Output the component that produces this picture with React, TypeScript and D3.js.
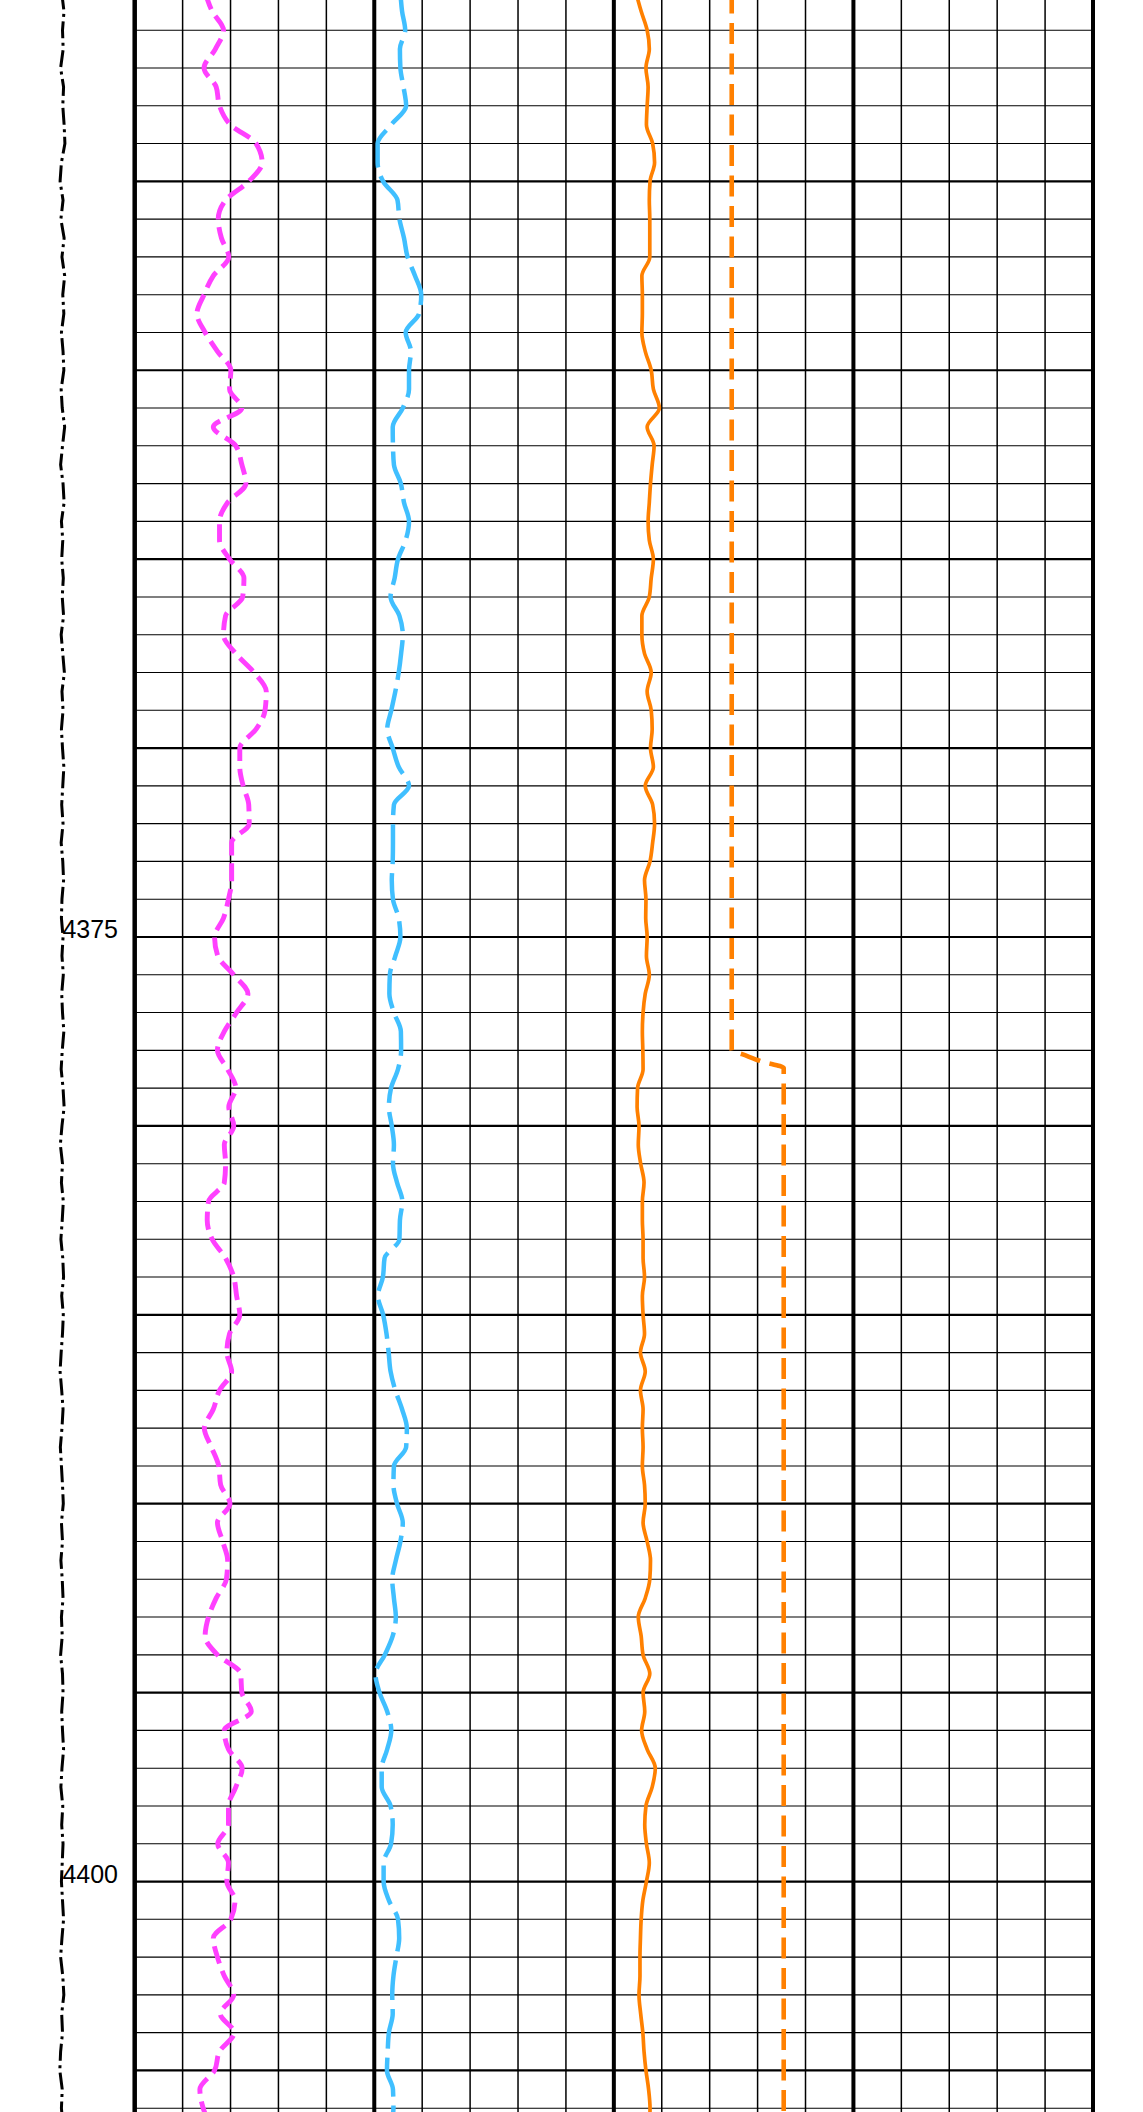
import React from 'react';
import * as d3 from 'd3';

const W = 1143;
const H = 2112;
const DEPTH_TOP = 4350.2;
const DEPTH_BOTTOM = 4406.1;
const DEPTH_START = 4350;
const DEPTH_STEP = 0.5;
const DEPTH_LABELS = [4350, 4375, 4400];

// Track 1: gamma ray (magenta dashed), 0-150
const GR = [
  44.1, 48.5, 55.6, 50.5, 43.4, 51.0, 53.1, 59.9, 76.0, 79.8,
  71.4, 56.9, 52.3, 54.3, 58.9, 49.2, 43.4, 39.0, 44.1, 51.8,
  60.2, 59.4, 67.1, 49.2, 63.3, 67.1, 69.6, 58.2, 53.1, 53.1,
  59.4, 68.4, 67.6, 56.9, 55.6, 63.3, 74.7, 82.4, 81.6, 76.0,
  65.8, 65.8, 67.9, 71.4, 71.7, 60.7, 60.7, 60.7, 58.7, 55.6,
  50.0, 52.0, 62.0, 70.9, 63.8, 56.1, 51.8, 58.2, 63.3, 58.9,
  62.0, 56.1, 56.9, 56.1, 46.2, 45.4, 48.5, 56.9, 62.0, 63.8,
  65.8, 59.4, 57.7, 60.7, 53.1, 49.2, 43.6, 48.0, 52.6, 53.8,
  59.7, 51.8, 55.1, 58.2, 57.4, 51.0, 46.2, 44.1, 51.8, 66.3,
  67.1, 73.0, 56.1, 58.7, 67.3, 63.3, 58.7, 58.7, 52.0, 58.7,
  57.7, 62.8, 60.2, 49.2, 51.8, 56.1, 62.0, 53.6, 62.2, 53.1,
  50.0, 40.8, 42.9, 48.0,
];

// Track 2: blue dashed curve, 0-100
const BLUE = [
  10.9, 11.6, 12.9, 10.7, 10.9, 12.2, 13.3, 7.1, 1.4, 1.4,
  3.7, 9.7, 10.5, 12.4, 13.9, 17.0, 19.6, 18.7, 13.1, 15.3,
  14.5, 14.5, 11.9, 7.7, 7.8, 8.2, 11.1, 12.4, 14.5, 13.1,
  9.9, 8.5, 6.8, 10.5, 11.9, 11.2, 10.2, 8.8, 7.1, 5.4,
  7.7, 10.2, 14.5, 8.2, 7.8, 7.8, 7.7, 7.3, 7.8, 10.2,
  10.9, 8.8, 6.5, 6.3, 8.2, 11.1, 11.2, 9.9, 7.0, 6.1,
  7.3, 8.2, 7.8, 9.5, 11.7, 10.7, 10.5, 4.3, 3.6, 1.5,
  3.7, 5.1, 6.0, 6.8, 8.8, 11.6, 13.6, 13.3, 8.2, 8.0,
  9.5, 11.9, 10.9, 9.0, 7.5, 8.2, 9.0, 7.7, 4.4, 0.5,
  2.2, 5.4, 7.1, 5.4, 3.1, 3.1, 6.8, 7.7, 7.0, 3.9,
  3.9, 6.1, 9.9, 10.4, 9.2, 8.0, 7.5, 7.7, 6.1, 5.6,
  5.3, 7.8, 8.0, 6.8,
];

// Track 3: orange solid curve, 0-100
const ORANGE = [
  9.2, 11.4, 13.9, 14.8, 13.4, 14.3, 13.9, 13.6, 16.2, 17.0,
  15.1, 14.8, 15.0, 15.0, 15.0, 11.7, 11.9, 11.9, 11.7, 13.1,
  15.6, 16.5, 19.0, 13.9, 16.8, 16.0, 15.3, 14.8, 14.3, 14.8,
  16.5, 15.6, 14.8, 11.7, 11.7, 12.8, 15.6, 13.9, 15.6, 16.0,
  15.3, 16.5, 13.1, 16.2, 17.0, 16.2, 15.1, 12.8, 13.4, 13.3,
  13.9, 13.6, 14.8, 13.1, 12.2, 11.9, 12.1, 12.2, 9.9, 9.7,
  10.5, 10.2, 11.2, 12.6, 11.9, 11.9, 12.2, 12.2, 12.8, 11.9,
  12.2, 12.8, 11.1, 13.1, 11.1, 12.2, 11.9, 12.2, 11.9, 12.8,
  13.1, 12.2, 13.9, 15.3, 15.0, 13.1, 10.2, 11.4, 12.2, 15.0,
  12.2, 12.9, 11.6, 13.9, 17.3, 16.0, 13.4, 12.9, 13.6, 14.8,
  13.6, 12.1, 11.4, 11.1, 10.9, 10.9, 10.5, 11.2, 12.1, 12.6,
  13.4, 14.5, 15.1, 14.8,
];

// Track 3: orange dashed step curve
const STEP_DEPTHS = [4350, 4378.0, 4378.1, 4378.3, 4378.47, 4406.5];
const STEP_VALUES = [49.2, 49.2, 53.5, 62.0, 70.9, 70.9];

// Depth track: black dash-dot curve, 0-100 across the depth column
const BLACK = [
  45.8, 47.5, 46.4, 46.9, 45.0, 47.2, 46.6, 47.6, 48.2, 45.6,
  44.6, 46.8, 45.2, 47.6, 46.0, 48.0, 46.6, 47.4, 45.6, 46.8,
  47.4, 45.4, 46.2, 48.0, 46.4, 45.0, 46.8, 47.6, 45.6, 46.6,
  45.8, 47.0, 46.2, 47.2, 45.4, 46.6, 47.8, 46.0, 46.8, 45.6,
  46.4, 47.4, 46.6, 45.8, 46.8, 45.4, 46.6, 47.2, 46.0, 45.6,
  46.8, 46.0, 47.0, 45.8, 46.4, 47.4, 46.2, 45.4, 46.8, 47.6,
  46.0, 44.8, 46.4, 45.6, 47.0, 46.2, 45.2, 46.6, 47.2, 45.8,
  47.0, 46.4, 45.4, 44.6, 45.8, 46.8, 46.0, 44.8, 45.6, 46.4,
  47.0, 45.6, 46.4, 45.2, 46.2, 46.8, 45.6, 46.2, 45.0, 46.4,
  46.8, 45.8, 46.4, 47.2, 46.0, 45.2, 46.6, 45.8, 46.8, 46.2,
  45.6, 46.4, 47.2, 46.0, 45.0, 46.6, 47.4, 45.8, 46.4, 45.0,
  44.4, 46.2, 45.6, 46.8,
];

const PLOT_LEFT = 134.7;
const PLOT_RIGHT = 1093;
const N_TRACKS = 4;
const DIVS = 5;

export default function App() {
  const y = d3.scaleLinear().domain([DEPTH_TOP, DEPTH_BOTTOM]).range([0, H]);
  const trackW = (PLOT_RIGHT - PLOT_LEFT) / N_TRACKS;
  const colW = trackW / DIVS;
  const trackScale = (i: number, dom: [number, number]) =>
    d3.scaleLinear().domain(dom).range([PLOT_LEFT + i * trackW, PLOT_LEFT + (i + 1) * trackW]);
  const xGR = trackScale(0, [0, 150]);
  const xBlue = trackScale(1, [0, 100]);
  const xOrange = trackScale(2, [0, 100]);
  const xBlack = d3.scaleLinear().domain([0, 100]).range([0, PLOT_LEFT]);

  const depthAt = (i: number) => DEPTH_START + i * DEPTH_STEP;
  const mk = (vals: number[], xs: d3.ScaleLinear<number, number>, curve: d3.CurveFactory) =>
    d3
      .line<number>()
      .x((v) => xs(v))
      .y((_, i) => y(depthAt(i)))
      .curve(curve)(vals) || '';

  const stepPath =
    d3
      .line<number>()
      .x((v) => xOrange(v))
      .y((_, i) => y(STEP_DEPTHS[i]))
      .curve(d3.curveMonotoneY)(STEP_VALUES) || '';

  const vLines = d3.range(0, N_TRACKS * DIVS + 1).map((i) => {
    const x = PLOT_LEFT + i * colW;
    const w = i === 0 ? 4.5 : i % DIVS === 0 ? 4 : 1.5;
    return { x, w };
  });
  const depthLines = y.ticks(60).filter((d) => Number.isInteger(d));
  const hLines = depthLines.map((d) => ({ y: y(d), w: d % 5 === 0 ? 2.2 : 1.1 }));

  return (
    <svg
      width={W}
      height={H}
      style={{ position: 'absolute', left: 0, top: 0, background: '#fff' }}
      xmlns="http://www.w3.org/2000/svg"
    >
      <rect x={0} y={0} width={W} height={H} fill="#fff" />
      <g>
        {hLines.map((l, i) => (
          <line key={'h' + i} x1={PLOT_LEFT} x2={PLOT_RIGHT} y1={l.y} y2={l.y} stroke="#000" strokeWidth={l.w} />
        ))}
        {vLines.map((l, i) => (
          <line key={'v' + i} x1={l.x} x2={l.x} y1={0} y2={H} stroke="#000" strokeWidth={l.w} />
        ))}
      </g>
      <g fill="none" strokeLinejoin="round">
        <path d={mk(BLACK, xBlack, d3.curveLinear)} stroke="#000" strokeWidth={3} strokeDasharray="17 4.5 3 4.5" />
        <path d={mk(GR, xGR, d3.curveMonotoneY)} stroke="#FF40FF" strokeWidth={4.9} strokeDasharray="18 7.8" />
        <path d={mk(BLUE, xBlue, d3.curveMonotoneY)} stroke="#40BFFF" strokeWidth={4.5} strokeDasharray="40 9" />
        <path d={mk(ORANGE, xOrange, d3.curveMonotoneY)} stroke="#FF8000" strokeWidth={3.7} />
        <path d={stepPath} stroke="#FF8000" strokeWidth={4.6} strokeDasharray="21 9.5" />
      </g>
      <g fontFamily="'Liberation Sans', Arial, sans-serif" fontSize={25} fill="#000">
        {DEPTH_LABELS.filter((d) => d >= DEPTH_TOP && d <= DEPTH_BOTTOM).map((d) => (
          <text key={d} x={118} y={y(d) + 1} textAnchor="end">
            {d}
          </text>
        ))}
      </g>
    </svg>
  );
}
